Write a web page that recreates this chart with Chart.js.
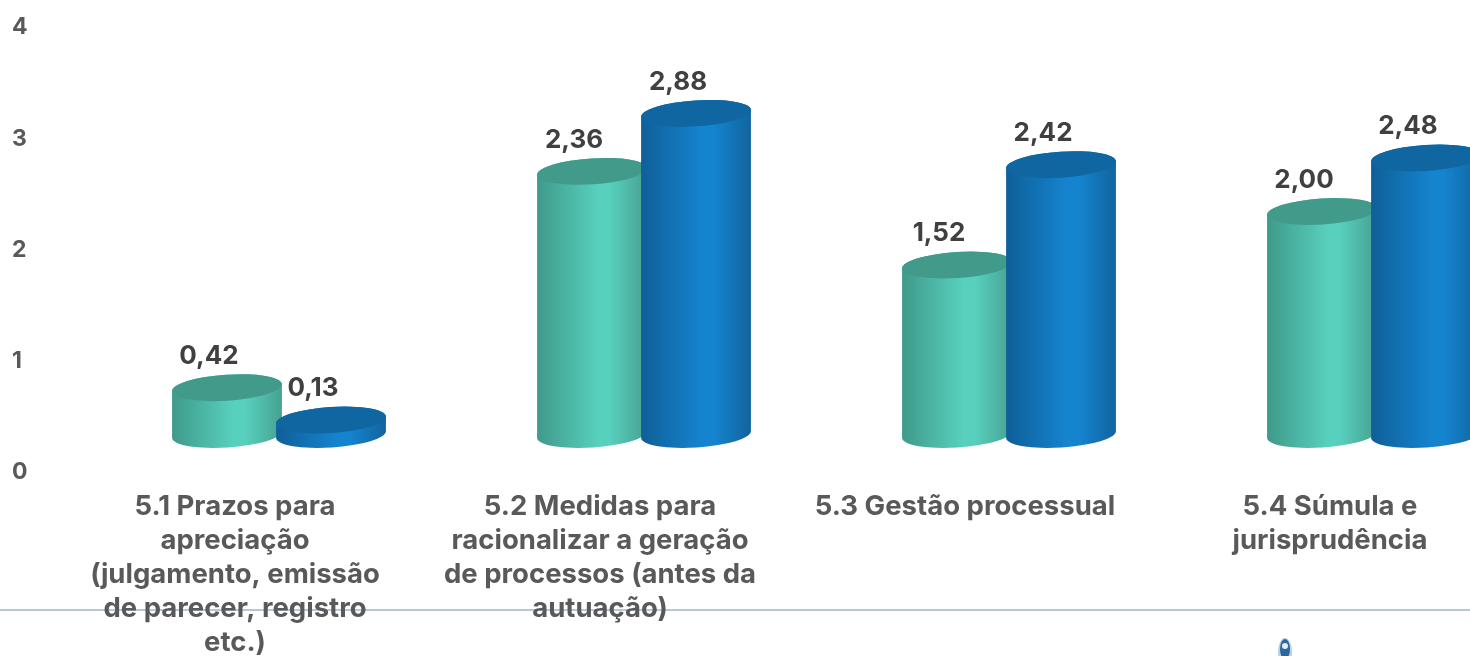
<!DOCTYPE html>
<html><head><meta charset="utf-8">
<style>html,body{margin:0;padding:0;background:#fff;overflow:hidden;width:1470px;height:656px}
#w{width:1470px;height:656px;overflow:hidden;position:relative}canvas{display:block}</style>
<script src="https://cdn.jsdelivr.net/npm/chart.js@4"></script></head>
<body><div id="w"><canvas id="c" width="1560" height="656"></canvas></div>
<script>
const categories=[
 ["5.1 Prazos para","apreciação","(julgamento, emissão","de parecer, registro","etc.)"],
 ["5.2 Medidas para","racionalizar a geração","de processos (antes da","autuação)"],
 ["5.3 Gestão processual"],
 ["5.4 Súmula e","jurisprudência"]
];
const seriesA=[0.42,2.36,1.52,2.00];
const seriesB=[0.13,2.88,2.42,2.48];
const axisTicks=[0,1,2,3,4];
const FONT='Inter';
const paletteA={edge:'#3f9a8a',mid:'#58d0be',edge2:'#47a191',top:'#429a8a'};
const paletteB={edge:'#0f5f98',mid:'#1584cf',edge2:'#11649e',top:'#0f66a1'};
const cylinders={id:'cylinders',
 beforeDraw(ch){const g=ch.ctx;g.save();g.strokeStyle='#9db5d0';g.lineWidth=1.5;g.beginPath();g.moveTo(0,610);g.lineTo(1560,610);g.stroke();
  g.fillStyle='#b9d0e2';g.beginPath();g.ellipse(1285,652,7,14,0,0,Math.PI*2);g.fill();
  g.fillStyle='#2a68a0';g.beginPath();g.ellipse(1285,649,5,10,0,0,Math.PI*2);g.fill();
  g.fillStyle='#e6eef5';g.beginPath();g.arc(1285,646,3,0,Math.PI*2);g.fill();g.restore();},
 afterDatasetsDraw(ch){const g=ch.ctx,ry=13,rot=-0.065;
  ch.data.datasets.forEach((ds,di)=>{const p=di?paletteB:paletteA;
   ch.getDatasetMeta(di).data.forEach(b=>{const rx=b.width/2,cx=b.x,l=cx-rx;
    const gr=g.createLinearGradient(l,0,l+b.width,0);
    gr.addColorStop(0,p.edge);gr.addColorStop(.56,p.mid);gr.addColorStop(.66,p.mid);gr.addColorStop(1,p.edge2);
    g.save();g.fillStyle=gr;g.beginPath();
    g.ellipse(cx,b.base,rx,ry,rot,0,Math.PI);
    g.ellipse(cx,b.y,rx,ry,rot,Math.PI,Math.PI*2);
    g.closePath();g.fill();
    g.fillStyle=p.top;g.beginPath();g.ellipse(cx,b.y,rx,ry,rot,0,Math.PI*2);g.fill();g.restore();
   });
  });
  ch.data.datasets.forEach((ds,di)=>{ch.getDatasetMeta(di).data.forEach((b,i)=>{
    g.save();g.font='bold 26px '+FONT;g.fillStyle='#404040';g.textAlign='center';g.textBaseline='middle';
    g.fillText(ds.data[i].toFixed(2).replace('.',','),b.x-18,b.y-31.5);g.restore();
  });});
 }};
new Chart(document.getElementById('c'),{type:'bar',
 data:{labels:categories,datasets:[
  {label:'A',data:seriesA,yAxisID:'yBars',backgroundColor:'rgba(0,0,0,0)',categoryPercentage:0.57,barPercentage:1.058},
  {label:'B',data:seriesB,yAxisID:'yBars',backgroundColor:'rgba(0,0,0,0)',categoryPercentage:0.57,barPercentage:1.058}]},
 options:{responsive:false,animation:false,
  layout:{padding:{top:27.5,left:12,right:3.5,bottom:0}},
  plugins:{legend:{display:false},tooltip:{enabled:false},title:{display:false}},
  scales:{
   x:{grid:{display:false},border:{display:false},
    afterFit(s){s.height=183.5;},
    ticks:{autoSkip:false,maxRotation:0,minRotation:0,labelOffset:-44,padding:9,color:'#595959',font:{family:FONT,weight:'bold',size:27.5,lineHeight:34/27.5}}},
   y:{min:0,max:4,grid:{display:false},border:{display:false},
    afterFit(s){s.width=84.5;},
    afterBuildTicks(s){s.ticks=axisTicks.map(v=>({value:v}));},
    ticks:{crossAlign:'far',padding:0,color:'#595959',font:{family:FONT,weight:'bold',size:23}}},
   yBars:{display:false,min:(434.5-472.5)/111.5,max:(434.5-27.5)/111.5}
  }},
 plugins:[cylinders]});
</script></body></html>
